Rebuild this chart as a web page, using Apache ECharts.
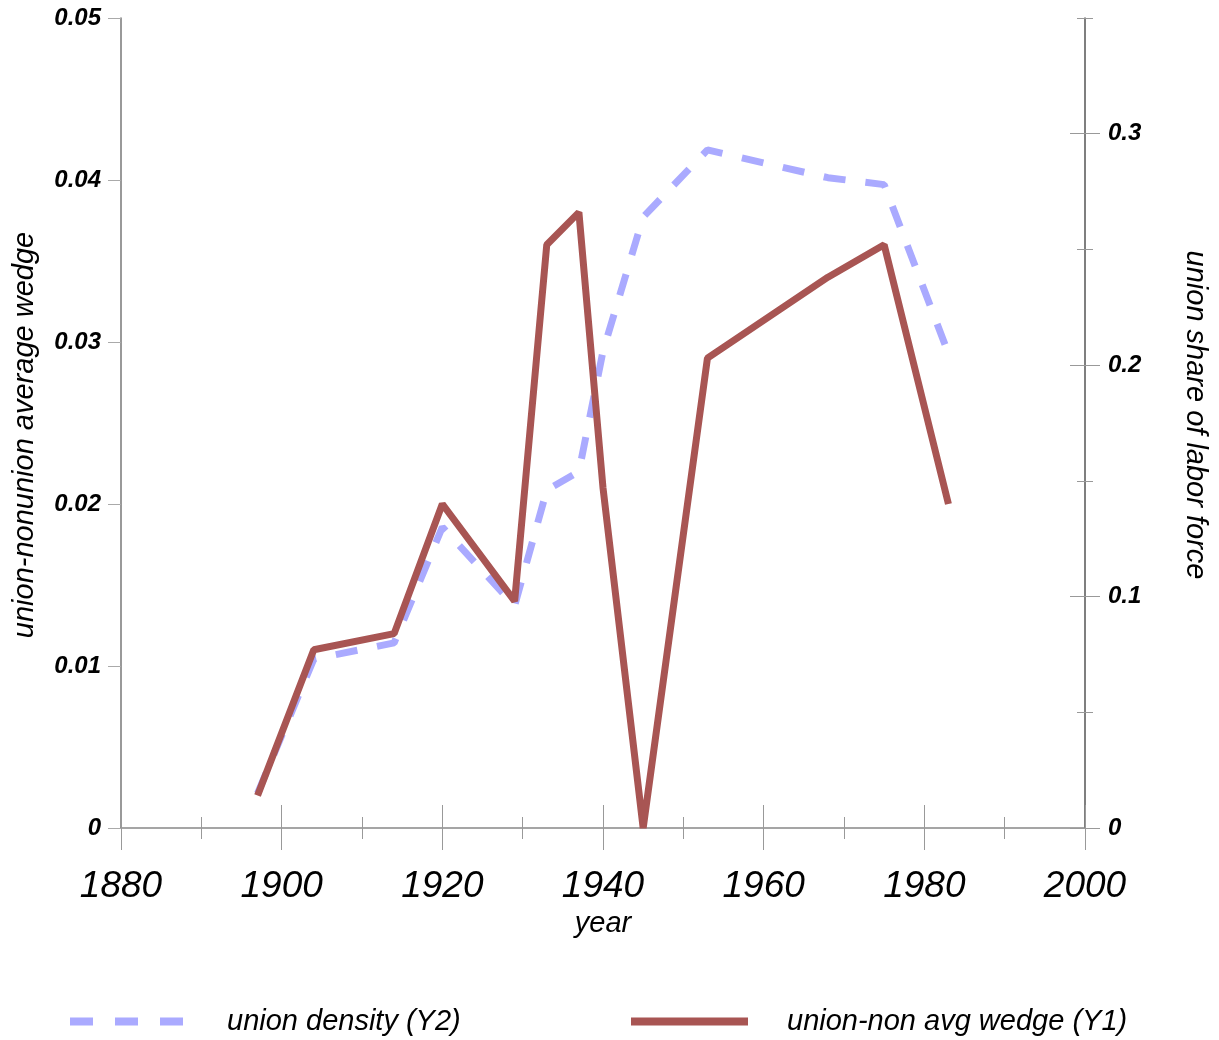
<!DOCTYPE html>
<html>
<head>
<meta charset="utf-8">
<script src="https://cdn.jsdelivr.net/npm/echarts@6/dist/echarts.min.js"></script>
<style>
html,body{margin:0;padding:0;background:#fff;}
#chart{width:1219px;height:1040px;}
</style>
</head>
<body>
<div id="chart"></div>
<script>
// ---- data ----
var wedgeYears   = [1897, 1904, 1914, 1920, 1929, 1933, 1937, 1940, 1945, 1953, 1968, 1975, 1983];
var wedgeValues  = [0.002, 0.011, 0.012, 0.020, 0.014, 0.036, 0.038, 0.021, 0.000, 0.029, 0.034, 0.036, 0.020];
var densityYears = [1897, 1904, 1914, 1920, 1929, 1933, 1937, 1940, 1945, 1953, 1968, 1975, 1983];
var densityValues= [0.015, 0.073, 0.080, 0.130, 0.096, 0.146, 0.154, 0.206, 0.264, 0.293, 0.281, 0.278, 0.205];
var rightMajorTicks = [0, 0.1, 0.2, 0.3];
var rightMinorTicks = [0.05, 0.15, 0.25, 0.35];
var seriesNames = ['union density (Y2)', 'union-non avg wedge (Y1)'];
var xAxisName = 'year';
var y1Name = 'union-nonunion average wedge';
var y2Name = 'union share of labor force';

function pairs(xs, ys){ return xs.map(function(x,i){ return [x, ys[i]]; }); }

var FONT = 'Liberation Sans, Arial, sans-serif';
var G = {left:121, right:134, top:18, bottom:212};
var BLUE = '#aaaaff', RED = '#a85553';
var DASH = [22, 20];

var chart = echarts.init(document.getElementById('chart'), null, {renderer:'canvas'});

function hiddenX(gi){
  return {type:'value', gridIndex:gi, min:1880, max:2000, interval:20, show:false};
}
function rightTickAxis(gi, vals, inside, len){
  return {type:'value', gridIndex:gi, position:'right', min:0, max:0.35, interval:0.05,
    axisLine:{show:false},
    axisTick:{show:true, inside:inside, length:len, customValues:vals, lineStyle:{color:'#999', width:1}},
    axisLabel:{show:false}, splitLine:{show:false}};
}
var tickLabelStyle = {fontFamily:FONT, fontStyle:'italic', fontWeight:'bold', fontSize:24, color:'#000'};

var option = {
  backgroundColor:'#fff',
  animation:false,
  grid:[
    Object.assign({}, G),
    Object.assign({}, G),
    Object.assign({}, G),
    Object.assign({}, G)
  ],
  legend:[
    {left:66, top:1007, padding:0, itemWidth:113, itemHeight:14,
     itemStyle:{color:'rgba(0,0,0,0)', borderWidth:0, opacity:0},
     lineStyle:{width:8, type:[23, 22], color:BLUE, cap:'butt'},
     data:[seriesNames[0]],
     textStyle:{fontFamily:FONT, fontStyle:'italic', fontSize:29, color:'#000', padding:[0,0,0,39]}},
    {left:627, top:1007, padding:0, itemWidth:117, itemHeight:14,
     itemStyle:{color:'rgba(0,0,0,0)', borderWidth:0, opacity:0},
     lineStyle:{width:8, type:'solid', color:RED, cap:'butt'},
     data:[seriesNames[1]],
     textStyle:{fontFamily:FONT, fontStyle:'italic', fontSize:29, color:'#000', padding:[0,0,0,34]}}
  ],
  xAxis:[
    {type:'value', gridIndex:0, position:'bottom', min:1880, max:2000, interval:20,
     name:xAxisName, nameLocation:'middle', nameGap:80,
     nameTextStyle:{fontFamily:FONT, fontStyle:'italic', fontSize:29, color:'#000'},
     axisLine:{show:true, onZero:false, lineStyle:{color:'#888', width:1.5}},
     axisTick:{show:true, inside:false, length:22, lineStyle:{color:'#999', width:1}},
     minorTick:{show:true, splitNumber:2, length:11, lineStyle:{color:'#999', width:1}},
     axisLabel:{fontFamily:FONT, fontStyle:'italic', fontSize:37, color:'#000', margin:40,
       formatter:function(v){ return String(v); }},
     splitLine:{show:false}, minorSplitLine:{show:false}},
    {type:'value', gridIndex:1, position:'bottom', min:1880, max:2000, interval:20,
     axisLine:{show:false},
     axisTick:{show:true, inside:true, length:23, lineStyle:{color:'#999', width:1}},
     minorTick:{show:true, splitNumber:2, length:11, lineStyle:{color:'#999', width:1}},
     axisLabel:{show:false}, splitLine:{show:false}, minorSplitLine:{show:false}},
    hiddenX(2),
    hiddenX(3)
  ],
  yAxis:[
    {type:'value', gridIndex:0, position:'left', min:0, max:0.05, interval:0.01,
     name:y1Name, nameLocation:'middle', nameGap:82,
     nameTextStyle:{fontFamily:FONT, fontStyle:'italic', fontSize:29, color:'#000', padding:[0,24,0,0]},
     axisLine:{show:true, onZero:false, lineStyle:{color:'#777', width:1.5}},
     axisTick:{show:true, inside:false, length:13, lineStyle:{color:'#aaa', width:1}},
     axisLabel:Object.assign({margin:20}, tickLabelStyle),
     splitLine:{show:false}},
    {type:'value', gridIndex:0, position:'right', min:0, max:0.35, interval:0.05,
     name:y2Name, nameLocation:'middle', nameGap:96, nameRotate:-90,
     nameTextStyle:{fontFamily:FONT, fontStyle:'italic', fontSize:29, color:'#000', padding:[0,16,0,0]},
     axisLine:{show:true, onZero:false, lineStyle:{color:'#555', width:1.5}},
     axisTick:{show:true, inside:false, length:15, customValues:rightMajorTicks, lineStyle:{color:'#999', width:1}},
     axisLabel:Object.assign({customValues:rightMajorTicks, margin:23}, tickLabelStyle),
     splitLine:{show:false}},
    rightTickAxis(1, rightMajorTicks, true, 15),
    rightTickAxis(2, rightMinorTicks, false, 8),
    rightTickAxis(3, rightMinorTicks, true, 8)
  ],
  series:[
    {name:seriesNames[0], type:'line', xAxisIndex:0, yAxisIndex:1, symbol:'none', showSymbol:false,
     data:pairs(densityYears, densityValues),
     itemStyle:{color:BLUE},
     lineStyle:{color:BLUE, width:7, type:DASH, cap:'butt'}},
    {name:seriesNames[1], type:'line', xAxisIndex:0, yAxisIndex:0, symbol:'none', showSymbol:false,
     data:pairs(wedgeYears, wedgeValues),
     itemStyle:{color:RED},
     lineStyle:{color:RED, width:7}}
  ]
};
chart.setOption(option);
</script>
</body>
</html>
